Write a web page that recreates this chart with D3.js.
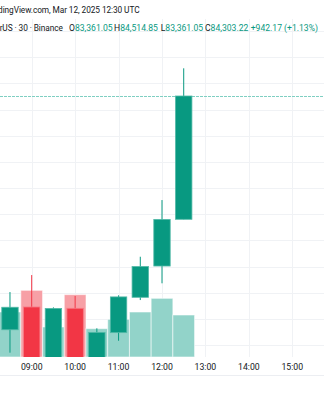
<!DOCTYPE html>
<html>
<head>
<meta charset="utf-8">
<script src="https://cdn.jsdelivr.net/npm/d3@7"></script>
<style>
  body { margin: 0; background: #fff; }
  svg { display: block; }
  text { font-family: Roboto, "Noto Sans", sans-serif; }
</style>
</head>
<body>
<svg id="chart" width="324" height="400"></svg>
<script>
// BTC/USDT 30m candles, 12 Mar 2025
const times   = ['08:30', '09:00', '09:30', '10:00', '10:30', '11:00', '11:30', '12:00', '12:30'];
const opens   = [82517, 82691, 82280, 82681, 82250, 82495, 82765, 83004, 83361.05];
const highs   = [82805, 82935, 82688, 82775, 82528, 82780, 83075, 83508, 84514.85];
const lows    = [82342, 82240, 82250, 82180, 82200, 82433, 82744, 82872, 83361.05];
const closes  = [82689, 82290, 82680, 82230, 82497, 82768, 83000, 83360, 84303.22];
const volumes = [1350, 2000, 900, 1870, 850, 1130, 1350, 1760, 1260];
const hourTicks = ['09:00', '10:00', '11:00', '12:00', '13:00', '14:00', '15:00'];
const lastPrice = 84303.22;

const header1 = 'TradingView.com, Mar 12, 2025 12:30 UTC';
const symbolText = 'Bitcoin / TetherUS · 30 · Binance';
const ohlcLabels = ['O', 'H', 'L', 'C'];
const ohlcValues = ['83,361.05', '84,514.85', '83,361.05', '84,303.22'];
const changeText = '+942.17 (+1.13%)';

const W = 324, H = 400;
const paneTop = 19, paneBottom = 357, axisLine = 375.5;
const up = '#089981', down = '#f23645';
const upVol = '#92d3c9', downVol = '#f7a0a6';

const svg = d3.select('#chart');
const day = t => new Date(`2025-03-12T${t}:00Z`);

// scales
const x = d3.scaleUtc().domain([day('09:00'), day('15:00')]).range([31.7, 292.3]);
const y = d3.scaleLinear().domain([83361.05, 84303.22]).range([219.3, 96]);
const yVol = d3.scaleLinear().domain([0, 3000]).range([paneBottom, paneBottom - 100]);
const slot = x(day('09:30')) - x(day('09:00'));

const pane = svg.append('g');
pane.append('defs').append('clipPath').attr('id', 'clip')
  .append('rect').attr('x', 0).attr('y', paneTop).attr('width', W).attr('height', paneBottom - paneTop);

// grid
const gridPrices = d3.range(
  Math.ceil(y.invert(paneBottom) / 200) * 200,
  y.invert(paneTop), 200);
pane.append('g').selectAll('line').data(gridPrices).join('line')
  .attr('x1', 0).attr('x2', W)
  .attr('y1', d => Math.round(y(d)) + 0.5).attr('y2', d => Math.round(y(d)) + 0.5)
  .attr('stroke', '#f0f2f5');
pane.append('g').selectAll('line').data(hourTicks).join('line')
  .attr('x1', d => Math.round(x(day(d))) + 0.5).attr('x2', d => Math.round(x(day(d))) + 0.5)
  .attr('y1', paneTop).attr('y2', paneBottom)
  .attr('stroke', '#f0f2f5');

const plot = pane.append('g').attr('clip-path', 'url(#clip)');

// volume
plot.append('g').selectAll('rect').data(times).join('rect')
  .attr('x', d => x(day(d)) - slot / 2)
  .attr('width', slot)
  .attr('y', (d, i) => yVol(volumes[i]))
  .attr('height', (d, i) => yVol(0) - yVol(volumes[i]))
  .attr('fill', (d, i) => closes[i] >= opens[i] ? upVol : downVol)
  .attr('stroke', 'rgba(255,255,255,0.55)')
  .attr('stroke-width', 1);

// last price line
plot.append('line')
  .attr('x1', 0).attr('x2', W)
  .attr('y1', Math.round(y(lastPrice)) + 0.5).attr('y2', Math.round(y(lastPrice)) + 0.5)
  .attr('stroke', '#7fcfc2').attr('stroke-dasharray', '3,1');

// candles
const candles = plot.append('g').selectAll('g').data(times).join('g');
candles.append('line')
  .attr('x1', d => x(day(d))).attr('x2', d => x(day(d)))
  .attr('y1', (d, i) => y(highs[i])).attr('y2', (d, i) => y(lows[i]))
  .attr('stroke', (d, i) => closes[i] >= opens[i] ? up : down)
  .attr('stroke-width', 1);
candles.append('rect')
  .attr('x', d => x(day(d)) - 8.2)
  .attr('width', 16.4)
  .attr('y', (d, i) => y(Math.max(opens[i], closes[i])))
  .attr('height', (d, i) => Math.abs(y(opens[i]) - y(closes[i])))
  .attr('fill', (d, i) => closes[i] >= opens[i] ? up : down)
  .attr('stroke', (d, i) => closes[i] >= opens[i] ? '#52b9a7' : '#f77a85')
  .attr('stroke-width', 0.8);

// time axis
svg.append('g').selectAll('text').data(hourTicks).join('text')
  .attr('x', d => x(day(d)))
  .attr('y', 369.5)
  .attr('text-anchor', 'middle')
  .attr('font-size', 8.7)
  .attr('fill', '#131722')
  .text(d => d);
svg.append('line').attr('x1', 0).attr('x2', W)
  .attr('y1', axisLine).attr('y2', axisLine).attr('stroke', '#eceef2');

// header (left part runs off the edge, as in the screenshot)
svg.append('text').attr('x', 139.5).attr('y', 12.5)
  .attr('text-anchor', 'end').attr('font-size', 8.3).attr('letter-spacing', -0.08)
  .attr('fill', '#131722')
  .text(header1);
svg.append('text').attr('x', 62.8).attr('y', 31)
  .attr('text-anchor', 'end').attr('font-size', 8.3).attr('letter-spacing', -0.08)
  .attr('fill', '#131722')
  .text(symbolText);
const legendX = [69, 114, 160.7, 205];
const legend = svg.append('g').attr('font-size', 8.6);
ohlcLabels.forEach((l, i) => {
  const t = legend.append('text').attr('x', legendX[i]).attr('y', 31);
  t.append('tspan').attr('fill', '#131722').text(l);
  t.append('tspan').attr('fill', up).text(ohlcValues[i]);
});
legend.append('text').attr('x', 250.7).attr('y', 31).attr('fill', up).text(changeText);
</script>
</body>
</html>
